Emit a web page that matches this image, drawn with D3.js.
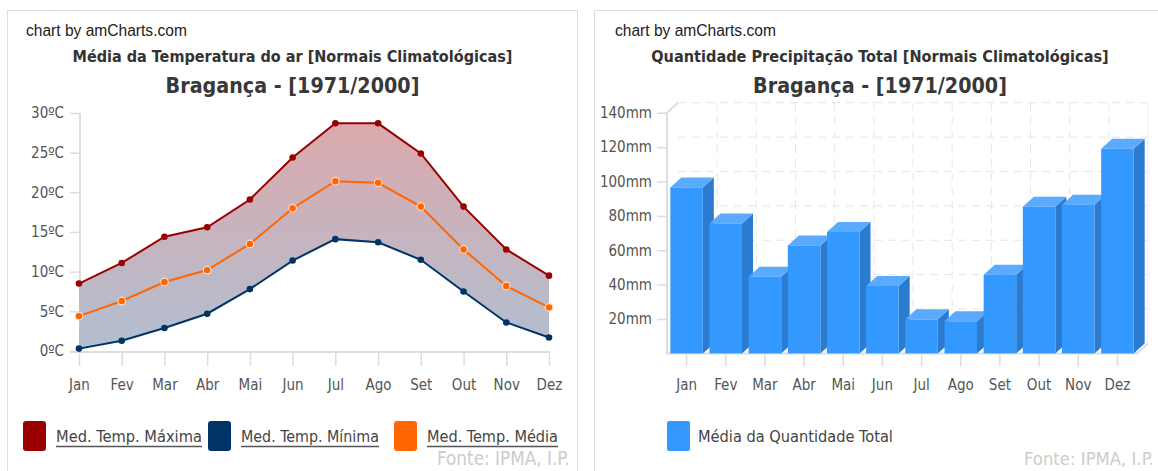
<!DOCTYPE html>
<html>
<head>
<meta charset="utf-8">
<script src="https://cdn.jsdelivr.net/npm/d3@7"></script>
<style>
  html, body { margin: 0; padding: 0; background: #fff; overflow: hidden; }
  text { font-family: "DejaVu Sans Condensed", "DejaVu Sans", sans-serif; }
</style>
</head>
<body>
<svg id="chart" width="1158" height="471"></svg>
<script>
// data
const months = ["Jan", "Fev", "Mar", "Abr", "Mai", "Jun", "Jul", "Ago", "Set", "Out", "Nov", "Dez"];
const tempMax = [8.5, 11.1, 14.4, 15.6, 19.1, 24.4, 28.7, 28.7, 24.9, 18.2, 12.8, 9.5];
const tempMin = [0.3, 1.3, 2.9, 4.7, 7.8, 11.4, 14.1, 13.7, 11.5, 7.5, 3.6, 1.7];
const tempMed = [4.4, 6.3, 8.7, 10.2, 13.5, 18.0, 21.4, 21.2, 18.2, 12.8, 8.2, 5.5];
const precip = [96.5, 75.6, 44.6, 62.8, 70.6, 39.2, 19.8, 18.7, 45.8, 85.3, 86.5, 119.0];
const tempTicks = [0, 5, 10, 15, 20, 25, 30];
const precipTicks = [20, 40, 60, 80, 100, 120, 140];
const tempSeries = ["Med. Temp. Máxima", "Med. Temp. Mínima", "Med. Temp. Média"];
const precipSeries = ["Média da Quantidade Total"];

const svg = d3.select("#chart");

// scale the font so the text spans a given width
function fit(sel, w) {
  const len = sel.node().getComputedTextLength();
  sel.attr("font-size", parseFloat(sel.attr("font-size")) * w / len);
  return sel;
}

function header(cx, left, titleText, titleW) {
  fit(svg.append("text").attr("x", left).attr("y", 36).attr("font-size", 14)
    .attr("fill", "#222")
    .style("font-family", "'Liberation Sans Narrow', 'Liberation Sans', sans-serif")
    .text("chart by amCharts.com"), 161);
  fit(svg.append("text").attr("x", cx).attr("y", 62).attr("text-anchor", "middle")
    .attr("font-size", 14).attr("font-weight", "bold").attr("fill", "#333")
    .text(titleText), titleW);
  fit(svg.append("text").attr("x", cx).attr("y", 93).attr("text-anchor", "middle")
    .attr("font-size", 20).attr("font-weight", "bold").attr("fill", "#383838")
    .text("Bragança - [1971/2000]"), 254);
}

// panel frames
svg.append("rect").attr("x", 7.5).attr("y", 10.5).attr("width", 570).attr("height", 480)
  .attr("fill", "none").attr("stroke", "#ddd");
svg.append("rect").attr("x", 594.5).attr("y", 10.5).attr("width", 600).attr("height", 480)
  .attr("fill", "none").attr("stroke", "#ddd");

// ---------- temperature chart ----------
header(292.5, 26, "Média da Temperatura do ar [Normais Climatológicas]", 440);

const x1 = d3.scalePoint().domain(months).range([79, 549]);
const y1 = d3.scaleLinear().domain([0, 30]).range([351, 113]);

const defs = svg.append("defs");
const grad = defs.append("linearGradient").attr("id", "tempFill")
  .attr("gradientUnits", "userSpaceOnUse")
  .attr("x1", 0).attr("x2", 0).attr("y1", y1(29)).attr("y2", y1(0));
grad.append("stop").attr("offset", 0).attr("stop-color", "#dca9ac");
grad.append("stop").attr("offset", 1).attr("stop-color", "#b0bfd1");

const g1 = svg.append("g");

const yAxis1 = g1.append("g").attr("transform", `translate(${x1("Jan") + 1},0)`)
  .call(d3.axisLeft(y1).tickValues(tempTicks).tickSize(10).tickPadding(6)
    .tickFormat(d => d + "ºC"));
const xAxis1 = g1.append("g").attr("transform", `translate(0,${y1(0) + 1})`)
  .call(d3.axisBottom(x1).tickSize(14).tickPadding(13));
[yAxis1, xAxis1].forEach(a => {
  a.select(".domain").remove();
  a.selectAll("line").attr("stroke", "#ddd").attr("stroke-width", 1.5);
  a.selectAll("text").attr("font-size", 15).attr("fill", "#555")
    .style("font-family", "'DejaVu Sans Condensed', 'DejaVu Sans', sans-serif");
});
g1.append("line").attr("x1", x1("Jan") + 1).attr("x2", x1("Jan") + 1)
  .attr("y1", y1(30)).attr("y2", y1(0) + 1).attr("stroke", "#ddd").attr("stroke-width", 2);
g1.append("line").attr("x1", 70).attr("x2", x1("Dez") + 1)
  .attr("y1", y1(0) + 1).attr("y2", y1(0) + 1).attr("stroke", "#ddd").attr("stroke-width", 2);

const rows = months.map((m, i) => ({ m, max: tempMax[i], min: tempMin[i], med: tempMed[i] }));

g1.append("path").datum(rows)
  .attr("d", d3.area().x(d => x1(d.m)).y0(d => y1(d.min)).y1(d => y1(d.max)))
  .attr("fill", "url(#tempFill)");

const lines = [
  { key: "max", color: "#990000", halo: false },
  { key: "min", color: "#003366", halo: false },
  { key: "med", color: "#ff6600", halo: true }
];
lines.forEach(s => {
  g1.append("path").datum(rows)
    .attr("d", d3.line().x(d => x1(d.m)).y(d => y1(d[s.key])))
    .attr("fill", "none").attr("stroke", s.color).attr("stroke-width", 2);
  g1.selectAll(null).data(rows).enter().append("circle")
    .attr("cx", d => x1(d.m)).attr("cy", d => y1(d[s.key]))
    .attr("r", s.halo ? 3.8 : 3.3).attr("fill", s.color)
    .attr("stroke", s.halo ? "#ffd9bf" : "none").attr("stroke-width", 1.2);
});

// legend
const legendX = [23, 208, 394];
const legendW = [146, 138, 131];
tempSeries.forEach((name, i) => {
  svg.append("rect").attr("x", legendX[i]).attr("y", 421).attr("width", 23).attr("height", 30)
    .attr("rx", 3).attr("fill", lines[i].color);
  fit(svg.append("text").attr("x", legendX[i] + 33).attr("y", 442)
    .attr("font-size", 15).attr("fill", "#444").text(name), legendW[i]);
  svg.append("line").attr("x1", legendX[i] + 33).attr("x2", legendX[i] + 33 + legendW[i])
    .attr("y1", 446.5).attr("y2", 446.5).attr("stroke", "#555").attr("stroke-width", 1.5);
});
fit(svg.append("text").attr("x", 437).attr("y", 465).attr("font-size", 15).attr("fill", "#ccc")
  .text("Fonte: IPMA, I.P."), 133);

// ---------- precipitation chart ----------
header(880, 615, "Quantidade Precipitação Total [Normais Climatológicas]", 458);

const dx = 11, dy = -10;
const x2 = d3.scaleBand().domain(months).range([667, 1137]).paddingInner(0.17).paddingOuter(0.085);
const y2 = d3.scaleLinear().domain([0, 140]).range([353.4, 112.7]);
const g2 = svg.append("g");
const base = y2(0);
const right = x2.range()[1];

// back-wall grid
g2.selectAll(null).data(precipTicks).enter().append("line")
  .attr("x1", x2.range()[0] + dx).attr("x2", right + dx)
  .attr("y1", d => y2(d) + dy).attr("y2", d => y2(d) + dy)
  .attr("stroke", "#e6e6e6").attr("stroke-dasharray", "8,6");
g2.selectAll(null).data(months.slice(1)).enter().append("line")
  .attr("x1", d => x2(d) - x2.step() * x2.paddingInner() / 2 + dx)
  .attr("x2", d => x2(d) - x2.step() * x2.paddingInner() / 2 + dx)
  .attr("y1", y2(140) + dy).attr("y2", base + dy)
  .attr("stroke", "#e6e6e6").attr("stroke-dasharray", "8,6");
g2.append("line").attr("x1", right + dx).attr("x2", right + dx)
  .attr("y1", y2(140) + dy).attr("y2", base + dy).attr("stroke", "#eee");

// axes
const yAxis2 = g2.append("g").attr("transform", `translate(${x2.range()[0]},0)`)
  .call(d3.axisLeft(y2).tickValues(precipTicks).tickSize(10).tickPadding(5)
    .tickFormat(d => d + "mm"));
const xAxis2 = g2.append("g").attr("transform", `translate(0,${base})`)
  .call(d3.axisBottom(x2).tickSize(13).tickPadding(13));
[yAxis2, xAxis2].forEach(a => {
  a.select(".domain").remove();
  a.selectAll("line").attr("stroke", "#ddd").attr("stroke-width", 1.5);
  a.selectAll("text").attr("font-size", 15).attr("fill", "#555")
    .style("font-family", "'DejaVu Sans Condensed', 'DejaVu Sans', sans-serif");
});
const axisPath = d3.path();
axisPath.moveTo(x2.range()[0] + dx, y2(140) + dy);
axisPath.lineTo(x2.range()[0], y2(140));
axisPath.lineTo(x2.range()[0], base);
axisPath.lineTo(right, base);
axisPath.lineTo(right + dx, base + dy);
g2.append("path").attr("d", axisPath.toString()).attr("fill", "none")
  .attr("stroke", "#ddd").attr("stroke-width", 2);

// 3D columns
const bars = g2.selectAll("g.bar").data(months.map((m, i) => ({ m, v: precip[i] })))
  .enter().append("g").attr("class", "bar");
bars.append("path").attr("fill", "#2b7bd0").attr("d", d => {
  const x = x2(d.m) + x2.bandwidth(), y = y2(d.v);
  return `M${x},${y}L${x + dx},${y + dy}L${x + dx},${base + dy}L${x},${base}Z`;
});
bars.append("path").attr("fill", "#5aabff").attr("d", d => {
  const x = x2(d.m), w = x2.bandwidth(), y = y2(d.v);
  return `M${x},${y}L${x + dx},${y + dy}L${x + w + dx},${y + dy}L${x + w},${y}Z`;
});
bars.append("rect").attr("fill", "#3399ff")
  .attr("x", d => x2(d.m)).attr("width", x2.bandwidth())
  .attr("y", d => y2(d.v)).attr("height", d => base - y2(d.v));

// legend
svg.append("rect").attr("x", 667).attr("y", 421).attr("width", 23).attr("height", 30)
  .attr("rx", 2).attr("fill", "#3399ff");
fit(svg.append("text").attr("x", 698).attr("y", 442).attr("font-size", 15).attr("fill", "#444")
  .text(precipSeries[0]), 195);
fit(svg.append("text").attr("x", 1024).attr("y", 465).attr("font-size", 15).attr("fill", "#ccc")
  .text("Fonte: IPMA, I.P."), 130);
</script>
</body>
</html>
